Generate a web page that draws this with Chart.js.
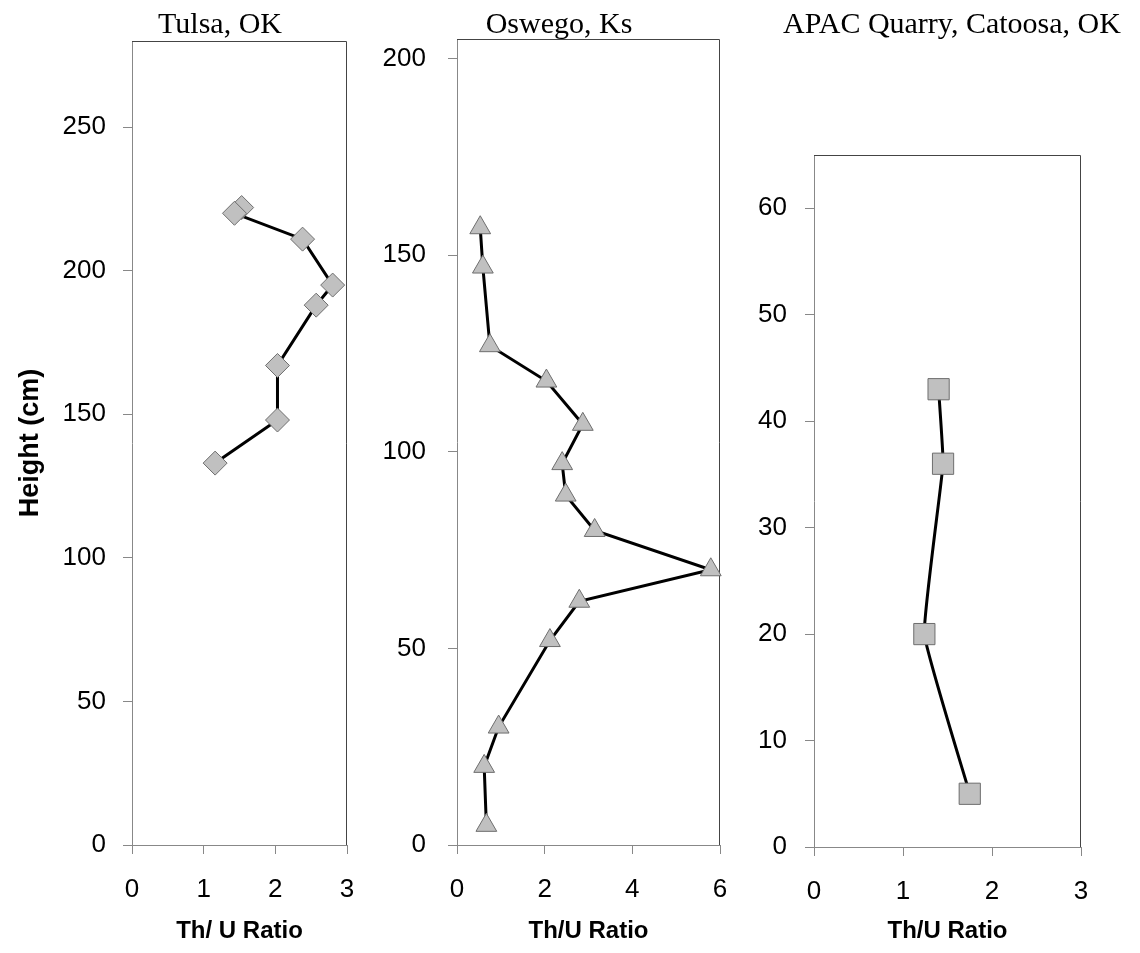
<!DOCTYPE html>
<html>
<head>
<meta charset="utf-8">
<title>Th/U Ratio profiles</title>
<script src="https://cdn.jsdelivr.net/npm/chart.js@4.4.1/dist/chart.umd.min.js"></script>
<style>
  html, body { margin: 0; padding: 0; background: #fff; }
  #wrap { position: relative; width: 1140px; height: 953px; overflow: hidden; }
  #wrap canvas { position: absolute; top: 0; }
</style>
</head>
<body>
<div id="wrap">
  <canvas id="tulsaChart" width="372" height="953" style="left:0px"></canvas>
  <canvas id="oswegoChart" width="368" height="953" style="left:372px"></canvas>
  <canvas id="apacChart" width="400" height="953" style="left:740px"></canvas>
</div>
<script>
// Tulsa, OK (diamonds)
const tulsaRatio  = [1.53, 1.43, 2.38, 2.80, 2.57, 2.03, 2.03, 1.16];
const tulsaHeight = [222, 220, 211, 195, 188, 167, 148, 133];

// Oswego, Ks (triangles)
const oswegoRatio  = [0.53, 0.59, 0.75, 2.04, 2.87, 2.40, 2.48, 3.14, 5.79, 2.79, 2.12, 0.95, 0.62, 0.67];
const oswegoHeight = [157, 147, 127, 118, 107, 97, 89, 80, 70, 62, 52, 30, 20, 5];

// APAC Quarry, Catoosa, OK (squares)
const apacRatio  = [1.40, 1.45, 1.24, 1.75];
const apacHeight = [43, 36, 20, 5];

const panelTitles = ['Tulsa, OK', 'Oswego, Ks', 'APAC Quarry, Catoosa, OK'];
const xTitles = ['Th/ U Ratio', 'Th/U Ratio', 'Th/U Ratio'];
const yTitle = 'Height (cm)';

const SANS = "'Liberation Sans', Arial, sans-serif";
const SERIF = "'Liberation Serif', 'Times New Roman', serif";

// Box round the plot area (top + right darker, left + bottom come from the axes)
const plotBox = {
    id: 'plotBox',
    beforeDatasetsDraw(chart) {
        const { ctx, chartArea: a } = chart;
        ctx.save();
        ctx.lineWidth = 1;
        ctx.strokeStyle = '#444';
        ctx.beginPath();
        ctx.moveTo(Math.round(a.left), Math.round(a.top) + 0.5);
        ctx.lineTo(Math.round(a.right) - 0.5, Math.round(a.top) + 0.5);
        ctx.lineTo(Math.round(a.right) - 0.5, Math.round(a.bottom));
        ctx.stroke();
        ctx.restore();
    }
};

// Panel heading in serif type
const panelTitle = {
    id: 'panelTitle',
    afterDraw(chart, args, opts) {
        const ctx = chart.ctx;
        ctx.save();
        ctx.font = '30px ' + SERIF;
        ctx.fillStyle = '#000';
        ctx.textAlign = 'center';
        ctx.textBaseline = 'alphabetic';
        ctx.fillText(opts.text, opts.x, opts.y);
        ctx.restore();
    }
};

function toPoints(xs, ys) {
    return xs.map((x, i) => ({ x: x, y: ys[i] }));
}

function makePanel(canvasId, setup) {
    const ctx = document.getElementById(canvasId).getContext('2d');
    return new Chart(ctx, {
        type: 'scatter',
        data: {
            datasets: [{
                data: toPoints(setup.ratio, setup.height),
                showLine: true,
                borderColor: '#000',
                borderWidth: 3,
                tension: setup.tension,
                pointStyle: setup.marker,
                pointRadius: setup.radius,
                pointHoverRadius: setup.radius,
                pointBackgroundColor: '#C0C0C0',
                pointBorderColor: '#6E6E6E',
                pointBorderWidth: 1,
                clip: false
            }]
        },
        options: {
            responsive: false,
            animation: false,
            devicePixelRatio: 1,
            layout: { padding: { top: setup.top, right: setup.right, bottom: 0, left: 0 } },
            plugins: {
                legend: { display: false },
                tooltip: { enabled: false },
                panelTitle: { text: setup.title, x: setup.titleX, y: 33 }
            },
            scales: {
                x: {
                    type: 'linear',
                    min: 0,
                    max: setup.xMax,
                    ticks: {
                        stepSize: setup.xStep,
                        includeBounds: false,
                        padding: 20,
                        color: '#000',
                        font: { family: SANS, size: 26 }
                    },
                    grid: { drawOnChartArea: false, drawTicks: true, tickLength: 9, color: '#888' },
                    border: { display: true, color: '#888', width: 1 },
                    title: {
                        display: true,
                        text: setup.xTitle,
                        color: '#000',
                        font: { family: SANS, size: 24, weight: 'bold' },
                        padding: { top: 0, bottom: 7 }
                    },
                    afterFit: function(scale) {
                        scale.height = setup.xHeight;
                        // let the layout padding alone decide the plot edges
                        scale.paddingLeft = 0;
                        scale.paddingRight = 0;
                    }
                },
                y: {
                    type: 'linear',
                    min: 0,
                    max: setup.yMax,
                    ticks: {
                        stepSize: setup.yStep,
                        includeBounds: false,
                        padding: setup.yPad,
                        color: '#000',
                        font: { family: SANS, size: 26 }
                    },
                    grid: { drawOnChartArea: false, drawTicks: true, tickLength: 9, color: '#888' },
                    border: { display: true, color: '#888', width: 1 },
                    title: {
                        display: !!setup.yTitle,
                        text: setup.yTitle || '',
                        color: '#000',
                        font: { family: SANS, size: 27, weight: 'bold' },
                        padding: { top: 14, bottom: 0 }
                    },
                    afterFit: function(scale) { scale.width = setup.yWidth; }
                }
            }
        },
        plugins: [plotBox, panelTitle]
    });
}

makePanel('tulsaChart', {
    ratio: tulsaRatio, height: tulsaHeight,
    marker: 'rectRot', radius: 12, tension: 0,
    xMax: 3, xStep: 1, yMax: 280, yStep: 50,
    top: 41, right: 25, xHeight: 108, yWidth: 132, yPad: 17,
    title: panelTitles[0], titleX: 220, xTitle: xTitles[0], yTitle: yTitle
});

makePanel('oswegoChart', {
    ratio: oswegoRatio, height: oswegoHeight,
    marker: 'triangle', radius: 12, tension: 0,
    xMax: 6, xStep: 2, yMax: 205, yStep: 50,
    top: 39, right: 20, xHeight: 108, yWidth: 85, yPad: 22,
    title: panelTitles[1], titleX: 187, xTitle: xTitles[1]
});

makePanel('apacChart', {
    ratio: apacRatio, height: apacHeight,
    marker: 'rect', radius: 15, tension: 0.1,
    xMax: 3, xStep: 1, yMax: 65, yStep: 10,
    top: 155, right: 59, xHeight: 106, yWidth: 74, yPad: 18,
    title: panelTitles[2], titleX: 212, xTitle: xTitles[2]
});
</script>
</body>
</html>
